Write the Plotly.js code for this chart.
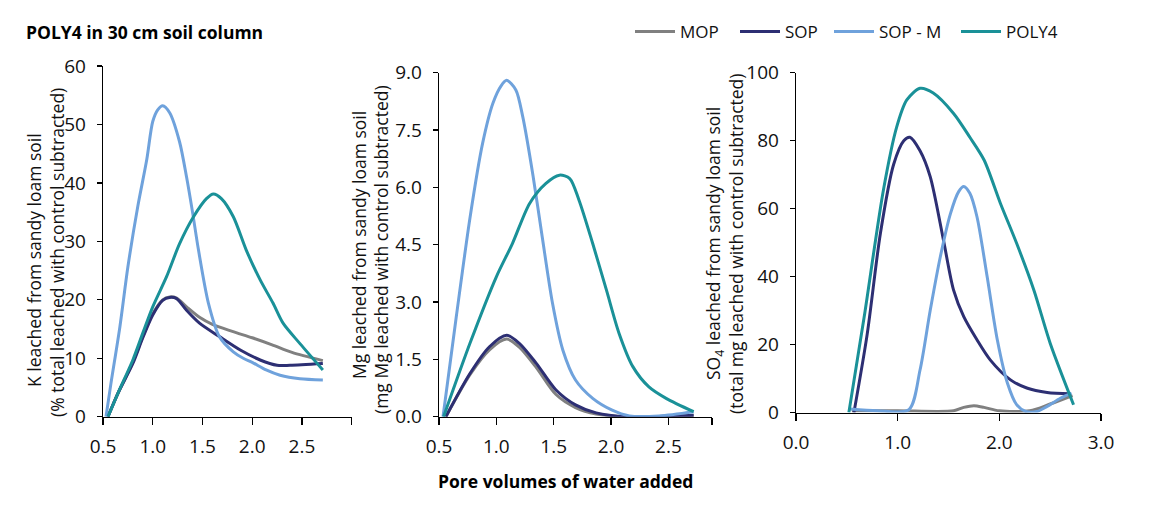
<!DOCTYPE html>
<html>
<head>
<meta charset="utf-8">
<script src="https://cdn.plot.ly/plotly-3.0.1.min.js"></script>
<style>html,body{margin:0;padding:0;background:#fff;} #chart{width:1154px;height:506px;}</style>
</head>
<body>
<div id="chart"></div>
<script>
// ---- Data ----
const seriesNames = ['MOP', 'SOP', 'SOP - M', 'POLY4'];

// Panel 1: K leached (% of total)
const kMopX  = [0.55,0.65,0.8,0.9,1.0,1.1,1.17,1.24,1.34,1.47,1.6,1.8,2.0,2.2,2.4,2.71];
const kMopY  = [0,4,9.3,13.7,17.6,20,20.5,20.3,18.8,17,15.8,14.6,13.5,12.3,11,9.6];
const kSopX  = [0.55,0.65,0.8,0.9,1.0,1.1,1.17,1.24,1.34,1.47,1.67,1.88,2.08,2.25,2.38,2.71];
const kSopY  = [0,4,9.1,13.5,17.4,19.9,20.4,20.2,18.2,16,13.7,11.4,9.7,8.8,8.8,9.1];
const kSopmX = [0.53,0.58,0.67,0.75,0.85,0.94,1.0,1.05,1.1,1.17,1.27,1.34,1.4,1.46,1.56,1.67,1.81,1.91,2.0,2.14,2.28,2.48,2.71];
const kSopmY = [0,5.7,15.4,25.6,36,44,50.5,52.5,53.2,52,47,41,35,28.5,19.4,13.7,11.1,10,9.3,8,7.1,6.5,6.3];
const kPolyX = [0.55,0.65,0.8,0.9,1.0,1.14,1.27,1.41,1.54,1.61,1.69,1.81,1.94,2.08,2.21,2.31,2.48,2.71];
const kPolyY = [0,4,9.7,14.3,18.8,24,29.6,34.2,37.3,38.1,37.3,34.2,28.5,23.4,19.4,16,12.5,8];

// Panel 2: Mg leached (mg)
const mgMopX  = [0.56,0.77,0.94,1.09,1.2,1.35,1.52,1.69,1.87,2.13,2.72];
const mgMopY  = [0,1.1,1.75,2.03,1.82,1.28,0.58,0.24,0.07,0,0.03];
const mgSopX  = [0.56,0.77,0.94,1.09,1.2,1.35,1.52,1.69,1.87,2.13,2.72];
const mgSopY  = [0,1.13,1.83,2.13,1.92,1.39,0.70,0.31,0.1,0,0.04];
const mgSopmX = [0.535,0.65,0.77,0.88,0.97,1.04,1.09,1.17,1.23,1.32,1.40,1.49,1.58,1.69,1.84,2.01,2.16,2.42,2.72];
const mgSopmY = [0,2.6,5.2,7.15,8.2,8.65,8.8,8.55,7.85,6.3,4.7,2.96,1.74,0.96,0.48,0.17,0.02,0.02,0.13];
const mgPolyX = [0.54,0.77,1.0,1.14,1.29,1.43,1.55,1.64,1.72,1.84,1.96,2.07,2.19,2.33,2.48,2.72];
const mgPolyY = [0,1.92,3.66,4.53,5.58,6.1,6.32,6.23,5.67,4.53,3.31,2.18,1.31,0.78,0.48,0.13];

// Panel 3: SO4 leached (total mg)
const soMopX  = [0.55,1.0,1.55,1.65,1.75,1.85,2.0,2.3,2.5,2.72];
const soMopY  = [0.5,0.5,0.5,1.5,2,1.5,0.5,0.5,2.5,5];
const soSopX  = [0.57,0.70,0.83,0.96,1.06,1.12,1.22,1.32,1.45,1.55,1.65,1.78,1.91,2.11,2.27,2.47,2.7];
const soSopY  = [0,23,52.7,73,80,81,77,69.4,50.8,36,28.2,21.4,15.5,9.6,7.2,5.9,5.5];
const soSopmX = [0.53,0.8,1.11,1.22,1.32,1.42,1.52,1.6,1.65,1.71,1.78,1.88,1.98,2.08,2.17,2.26,2.37,2.47,2.6,2.71];
const soSopmY = [1,0.5,0.8,12.5,30,45.9,58.6,65,66.5,64.5,57.6,40,21.4,8.6,2.3,0.3,0.3,1.8,4.2,5.7];
const soPolyX = [0.52,0.67,0.86,0.99,1.09,1.22,1.35,1.55,1.71,1.85,2.01,2.17,2.34,2.5,2.73];
const soPolyY = [0,28,65.5,84,92,95.4,94,88,81,74.3,61.6,49.8,36,20.4,2.3];

// Tick labels / positions
const kTickVals  = [0.5,1.0,1.5,2.0,2.5];
const kTickText  = ['0.5','1.0','1.5','2.0','2.5'];
const kEndTick   = [3.0];
const mgTickVals = [0.5,1.0,1.5,2.0,2.5];
const mgTickText = ['0.5','1.0','1.5','2.0','2.5'];
const mgEndTick  = [2.88];
const soTickVals = [0,1,2,3];
const soTickText = ['0.0','1.0','2.0','3.0'];

// Axis titles
const yTitles = [
  ['K leached from sandy loam soil', '(% total leached with control subtracted)'],
  ['Mg leached from sandy loam soil', '(mg Mg leached with control subtracted)'],
  ['SO<sub>4</sub> leached from sandy loam soil', '(total mg leached with control subtracted)']
];
const xTitle = 'Pore volumes of water added';
const chartTitle = 'POLY4 in 30 cm soil column';

// ---- Styling ----
const colors = ['#808080', '#2d2f73', '#6fa2dc', '#1a9198'];
const FONT = '"Open Sans", Lato, sans-serif';
const W = 1154, H = 506;
const px = v => v / W;
const py = v => 1 - v / H;

const panels = [
  {xs:[kMopX,kSopX,kSopmX,kPolyX], ys:[kMopY,kSopY,kSopmY,kPolyY], xa:'x', ya:'y'},
  {xs:[mgMopX,mgSopX,mgSopmX,mgPolyX], ys:[mgMopY,mgSopY,mgSopmY,mgPolyY], xa:'x2', ya:'y2'},
  {xs:[soMopX,soSopX,soSopmX,soPolyX], ys:[soMopY,soSopY,soSopmY,soPolyY], xa:'x3', ya:'y3'}
];
const legendIds = ['legend','legend2','legend3','legend4'];

const traces = [];
panels.forEach((p, pi) => {
  for (let s = 0; s < 4; s++) {
    traces.push({
      type: 'scatter', mode: 'lines',
      x: p.xs[s], y: p.ys[s],
      xaxis: p.xa, yaxis: p.ya,
      name: seriesNames[s],
      line: {color: colors[s], width: 3, shape: 'spline', smoothing: 0.8},
      showlegend: pi === 0,
      legend: legendIds[s],
      hoverinfo: 'skip'
    });
  }
});

const axisBase = {
  showgrid: false, zeroline: false, showline: true,
  linecolor: '#000', linewidth: 1.3,
  ticks: 'outside', tickcolor: '#000', tickwidth: 1.3,
  tickfont: {family: FONT, size: 19, color: '#111'}
};
const xBase = Object.assign({}, axisBase, {ticklen: 7, ticklabelstandoff: 5});
const yBase = Object.assign({}, axisBase, {ticklen: 5, ticklabelstandoff: 7});

function legendAt(x) {
  return {x: px(x), xanchor: 'left', y: py(32), yanchor: 'middle',
          orientation: 'h', bgcolor: 'rgba(0,0,0,0)', borderwidth: 0, itemwidth: 40,
          font: {family: FONT, size: 17, color: '#111'}};
}

function yTitleAnn(text, x, y) {
  return {xref: 'paper', yref: 'paper', x: px(x), y: py(y), xanchor: 'center', yanchor: 'middle',
          textangle: -90, showarrow: false, font: {family: FONT, size: 17.5, color: '#111'}, text: text};
}

const layout = {
  width: W, height: H,
  margin: {l: 0, r: 0, t: 0, b: 0},
  paper_bgcolor: '#fff', plot_bgcolor: '#fff',
  font: {family: FONT, color: '#111'},
  title: {text: '<b>' + chartTitle + '</b>', x: px(26), xanchor: 'left',
          y: py(33), yanchor: 'middle', font: {family: FONT, size: 17.5, color: '#000'}},
  xaxis:  Object.assign({}, xBase, {domain: [px(103), px(351.7)], range: [0.5, 3.0], tickvals: kTickVals, ticktext: kTickText,
                                    minor: {tickvals: kEndTick, ticks: 'outside', ticklen: 7, tickcolor: '#000', tickwidth: 1.3}, anchor: 'y'}),
  yaxis:  Object.assign({}, yBase, {domain: [py(416.7), py(66)], range: [0, 60], dtick: 10, anchor: 'x'}),
  xaxis2: Object.assign({}, xBase, {domain: [px(439), px(712)], range: [0.5, 2.88], tickvals: mgTickVals, ticktext: mgTickText,
                                    minor: {tickvals: mgEndTick, ticks: 'outside', ticklen: 7, tickcolor: '#000', tickwidth: 1.3}, anchor: 'y2'}),
  yaxis2: Object.assign({}, yBase, {domain: [py(416.7), py(72.7)], range: [0, 9], dtick: 1.5, tickformat: '.1f', anchor: 'x2'}),
  xaxis3: Object.assign({}, xBase, {domain: [px(796), px(1101)], range: [0, 3], tickvals: soTickVals, ticktext: soTickText, anchor: 'y3'}),
  yaxis3: Object.assign({}, yBase, {domain: [py(412.5), py(72.7)], range: [0, 100], dtick: 20, anchor: 'x3'}),
  legend: legendAt(630),
  legend2: legendAt(735),
  legend3: legendAt(829),
  legend4: legendAt(956),
  annotations: [
    yTitleAnn(yTitles[0][0], 34, 260),
    yTitleAnn(yTitles[0][1], 57, 253),
    yTitleAnn(yTitles[1][0], 359, 245),
    yTitleAnn(yTitles[1][1], 381, 250),
    yTitleAnn(yTitles[2][0], 714, 244),
    yTitleAnn(yTitles[2][1], 736, 243),
    {xref: 'paper', yref: 'paper', x: px(565), y: py(481), xanchor: 'center', yanchor: 'middle',
     showarrow: false, font: {family: FONT, size: 17.5, color: '#000'},
     text: '<b>' + xTitle + '</b>'}
  ]
};

Plotly.newPlot('chart', traces, layout, {displayModeBar: false, staticPlot: true});
</script>
</body>
</html>
